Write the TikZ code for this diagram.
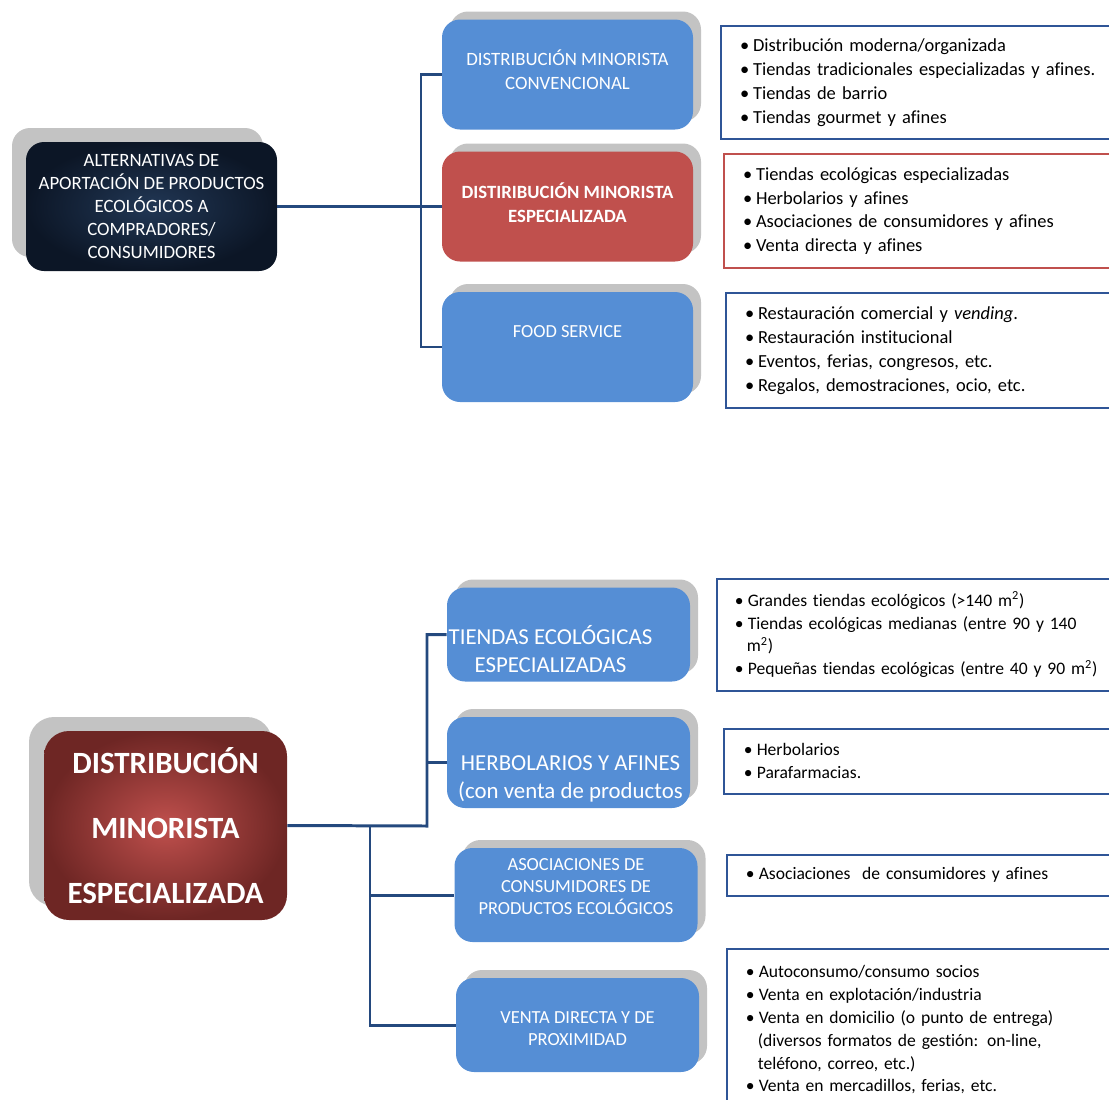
\documentclass[tikz,border=0pt]{standalone}
\usepackage{fontspec}
\setmainfont{Carlito}[Ligatures=NoCommon]
\usetikzlibrary{positioning,shadows}

\definecolor{boxblue}{HTML}{558ED5}
\definecolor{boxred}{HTML}{C0504D}
\definecolor{darknavy}{HTML}{0C1626}
\definecolor{midnavy}{HTML}{213755}
\definecolor{deepred}{HTML}{6E2624}
\definecolor{linkblue}{HTML}{24497E}
\definecolor{frameblue}{HTML}{2F5597}
\definecolor{shadowgray}{HTML}{C3C3C3}

\newcommand{\px}{0.02cm}
\newcommand{\bul}{\makebox[0.26cm][l]{\textbullet}}
\newcommand{\bulx}{\makebox[0.24cm][l]{}}

\begin{document}
\begin{tikzpicture}[x=0.02cm, y=-0.02cm,
  conn/.style={draw=linkblue, line width=1.7pt},
  shad/.style={drop shadow={shadow xshift=0.16cm, shadow yshift=0.16cm, fill=shadowgray, opacity=1}},
  topbox/.style={rectangle, rounded corners=0.36cm, fill=boxblue, align=center,
    minimum width=251*\px, minimum height=110*\px, inner sep=0pt, shad},
  lowbox/.style={topbox, minimum width=243*\px, minimum height=94*\px},
  boxtxt/.style={text=white, align=center, inner sep=0pt, font=\fontsize{10.7}{13.6}\selectfont},
  listbox/.style={draw=frameblue, line width=1.2pt, anchor=north west, align=left,
    inner xsep=0.38cm, text width=8cm, font=\fontsize{10.5}{13.6}\selectfont},
  lowlist/.style={listbox, line width=0.9pt, font=\fontsize{10}{13}\selectfont}]

\useasboundingbox (0,0) rectangle (1109,1099);
\clip (0,0) rectangle (1109,1099);

% ---------- upper chart ----------
\node[rectangle, rounded corners=0.36cm, shading=radial, inner color=midnavy, outer color=darknavy,
  text=white, align=center, minimum width=251*\px, minimum height=129*\px, inner sep=0pt,
  font=\fontsize{10.7}{13}\selectfont,
  drop shadow={shadow xshift=-0.28cm, shadow yshift=0.28cm, fill=shadowgray, opacity=1}]
  (alt) at (151.5,206.5) {ALTERNATIVAS DE\\APORTACIÓN DE PRODUCTOS\\ECOLÓGICOS A\\COMPRADORES/\\CONSUMIDORES};

\node[topbox] (conv) at (567.5,74.5) {};
\node[boxtxt] (conv-t) at ([yshift=0.09cm]conv.center) {DISTRIBUCIÓN MINORISTA\\CONVENCIONAL};
\node[topbox, fill=boxred] (espec) at (567.5,206.5) {};
\node[boxtxt, font=\fontsize{10.65}{13.6}\selectfont\bfseries] (espec-t) at ([yshift=0.08cm]espec.center)
  {DISTIRIBUCIÓN MINORISTA\\ESPECIALIZADA};
\node[topbox] (food) at (567.5,347) {};
\node[boxtxt, font=\fontsize{10.5}{13.6}\selectfont] (food-t) at ([yshift=0.3cm]food.center) {FOOD SERVICE};

\coordinate (j1) at (421,206.5);
\draw[conn] (alt.east) -- (espec.west);
\draw[conn] (conv.west) -| (j1) |- (food.west);

% lists
\node[listbox, minimum height=113*\px] (l-conv) at (720,25)
  {\bul Distribución moderna/organizada\\
   \bul Tiendas tradicionales especializadas y afines.\\
   \bul Tiendas de barrio\\
   \bul Tiendas gourmet y afines};
\node[listbox, draw=boxred, minimum height=114*\px] (l-espec) at (723,153)
  {\bul Tiendas ecológicas especializadas\\
   \bul Herbolarios y afines\\
   \bul Asociaciones de consumidores y afines\\
   \bul Venta directa y afines};
\node[listbox, minimum height=115*\px] (l-food) at (725,292)
  {\bul Restauración comercial y \textit{vending}.\\
   \bul Restauración institucional\\
   \bul Eventos, ferias, congresos, etc.\\
   \bul Regalos, demostraciones, ocio, etc.};

% ---------- lower chart ----------
\node[rectangle, rounded corners=0.5cm, shading=radial, inner color=boxred, outer color=deepred,
  text=white, align=center, minimum width=243*\px, minimum height=189*\px, inner sep=0pt,
  font=\fontsize{17.6}{36.9}\selectfont\bfseries,
  drop shadow={shadow xshift=-0.3cm, shadow yshift=0.28cm, fill=shadowgray, opacity=1}]
  (esp) at (165.5,825.5) {DISTRIBUCIÓN\\MINORISTA\\ESPECIALIZADA};

\node[lowbox] (tiendas) at (568.5,634.5) {};
\node[boxtxt, font=\fontsize{13}{15.9}\selectfont] (tiendas-t)
  at ([xshift=-0.36cm, yshift=-0.29cm]tiendas.center) {TIENDAS ECOLÓGICAS\\ESPECIALIZADAS};
\node[lowbox, minimum height=91*\px] (herb) at (568.5,762.5) {};
\node[boxtxt, font=\fontsize{13}{15.9}\selectfont] (herb-t)
  at ([xshift=0.04cm, yshift=-0.33cm]herb.center) {HERBOLARIOS Y AFINES\\(con venta de productos};
\node[lowbox] (asoc) at (576,895) {};
\node[boxtxt, font=\fontsize{10.5}{12.5}\selectfont] (asoc-t) at ([yshift=0.16cm]asoc.center)
  {ASOCIACIONES DE\\CONSUMIDORES DE\\PRODUCTOS ECOLÓGICOS};
\node[lowbox] (venta) at (577.5,1025) {};
\node[boxtxt, font=\fontsize{10.5}{12.5}\selectfont] (venta-t) at ([yshift=-0.08cm]venta.center)
  {VENTA DIRECTA Y DE\\PROXIMIDAD};

\coordinate (j2) at (427,826);
\coordinate (j3) at (370,826);
\draw[conn] (esp.east) -- (j2) |- (tiendas.west);
\draw[conn] (j2) |- (herb.west);
\draw[conn] (j3) |- (asoc.west);
\draw[conn] (j3) |- (venta.west);

% lists
\node[lowlist, inner xsep=0.36cm, minimum height=112*\px] (l-tiendas) at (716,578)
  {\bul Grandes tiendas ecológicos (>140 m\textsuperscript{2})\\
   \bul Tiendas ecológicas medianas (entre 90 y 140\\
   \bulx m\textsuperscript{2})\\
   \bul Pequeñas tiendas ecológicas (entre 40 y 90 m\textsuperscript{2})};
\node[lowlist, inner xsep=0.4cm, minimum height=65*\px] (l-herb) at (723,728)
  {\bul Herbolarios\\
   \bul Parafarmacias.};
\node[lowlist, minimum height=41*\px] (l-asoc) at (726,854)
  {\bul Asociaciones\ \ de consumidores y afines};
\node[lowlist, minimum height=162*\px] (l-venta) at (726,948)
  {\bul Autoconsumo/consumo socios\\
   \bul Venta en explotación/industria\\
   \bul Venta en domicilio (o punto de entrega)\\
   \bulx (diversos formatos de gestión: on-line,\\
   \bulx teléfono, correo, etc.)\\
   \bul Venta en mercadillos, ferias, etc.};

\end{tikzpicture}
\end{document}
